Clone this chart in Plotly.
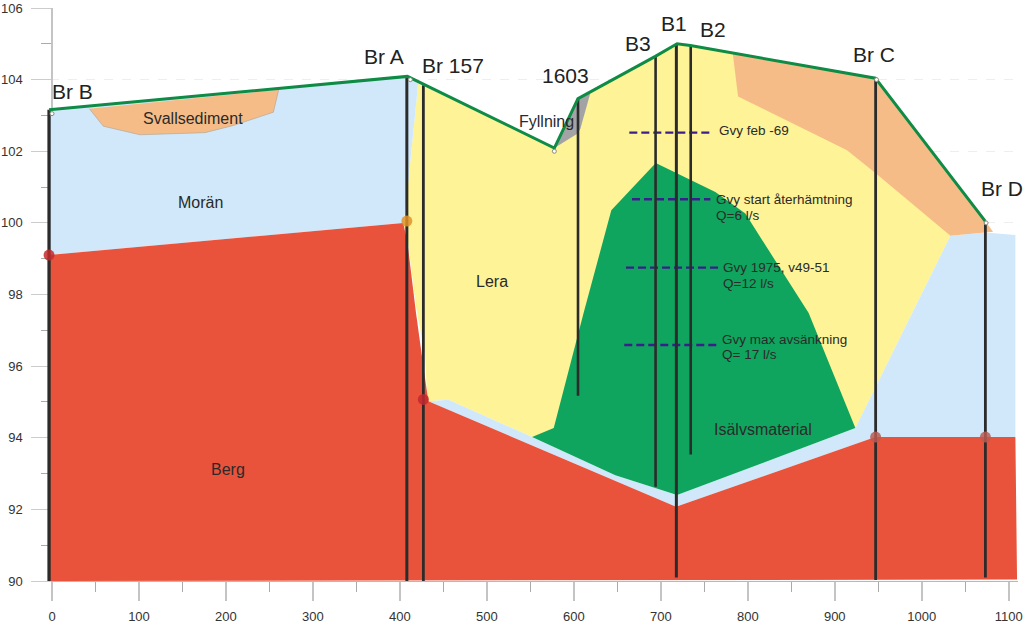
import plotly.graph_objects as go

# markytans profil
surface_x = [-3.4, 408.6, 577.6, 604.8, 693.7, 718.7, 734, 946.7, 1073]
surface_y = [103.16, 104.09, 102.09, 103.47, 104.65, 105.0, 104.95, 104.04, 100.05]

# jordlager, ritas i denna ordning
lera_x = [421, 577.6, 604.8, 693.7, 718.7, 734, 946.7, 1073, 1033, 923.7, 552, 529, 455.8, 433, 431, 429, 419, 409, 404, 406]
lera_y = [103.89, 102.09, 103.47, 104.65, 105.0, 104.95, 104.04, 100.05, 99.64, 94.27, 94.02, 94.27, 95.06, 95.02, 95.25, 96.3, 97.6, 99.5, 100.0, 100.27]

moran_x = [-3.4, 408.6, 421, 406, 403.8, -3.4]
moran_y = [103.16, 104.09, 103.89, 100.27, 100.0, 99.1]

moran2_x = [1033, 1073, 1107.7, 1107.7, 946.7, 717.5, 432.7, 455.8, 529, 552, 647.7, 718.7, 923.7]
moran2_y = [99.64, 99.73, 99.66, 94.02, 94.02, 92.07, 95.02, 95.06, 94.27, 94.02, 92.95, 92.4, 94.27]

berg_x = [-3.4, 403.8, 408.6, 418.5, 427, 432.7, 717.5, 946.7, 1107.7, 1109.6, -3.4]
berg_y = [99.1, 100.0, 99.47, 97.49, 95.99, 95.02, 92.07, 94.02, 94.02, 90.04, 90]

svall_x = [42.9, 59, 101.2, 175.9, 208.5, 254.5, 260.7]
svall_y = [103.19, 102.7, 102.46, 102.52, 102.72, 103.09, 103.72]

sand_x = [782.7, 788.8, 914.1, 946.7, 1033, 1073, 1082, 1073, 946.7]
sand_y = [104.74, 103.53, 102.03, 101.39, 99.64, 99.73, 99.75, 100.05, 104.04]

fyll_x = [577.6, 604.8, 619, 607.5, 604]
fyll_y = [102.09, 103.47, 103.63, 102.63, 102.49]

isalv_x = [694.2, 643.1, 611.3, 576.9, 552, 647.7, 718.7, 923.7, 870, 797.2, 762.7]
isalv_y = [101.67, 100.35, 97.49, 94.27, 94.02, 92.95, 92.4, 94.27, 97.48, 100.26, 100.86]

# borrhal
hole_x = [-3.4, 408, 427, 604.8, 694, 717.9, 734.4, 947, 1073.2]
hole_top = [103.16, 104.09, 103.84, 103.47, 104.65, 105.0, 104.95, 104.04, 100.05]
hole_bottom = [90, 90, 90, 95.17, 92.63, 90.1, 93.53, 90.03, 90.1]
hole_width = [3.3, 3, 2.8, 2.6, 2.6, 3, 2.6, 2.8, 2.8]

# bergnivan i borrhalen
rock_x = [-3.4, 408, 427, 947, 1073.2]
rock_y = [99.1, 100.05, 95.07, 94.02, 94.02]
rock_col = ["#c42a2c", "#e0922a", "#c2282f", "#bb5a50", "#bb5a50"]

small_x = [0, 412, 577.6, 948, 1074]
small_y = [103.05, 104.0, 102.0, 104.0, 100.0]

# grundvattenytor
gvy_x0 = [663.8, 666.9, 660, 658]
gvy_x1 = [758.9, 757, 767.3, 767.3]
gvy_y = [102.52, 100.66, 98.75, 96.59]

big_text = ["Br B", "Br A", "Br 157", "1603", "B3", "B1", "B2", "Br C", "Br D"]
big_x = [0, 358.7, 425, 563.4, 659.3, 700.6, 745.4, 921.4, 1068.2]
big_y = [103.67, 104.65, 104.4, 104.12, 105.0, 105.58, 105.4, 104.7, 100.97]

mid_text = ["Fyllning", "Svallsediment", "Morän", "Lera", "Berg", "Isälvsmaterial"]
mid_x = [537.3, 104.6, 144.5, 487.2, 182.8, 761.5]
mid_y = [102.83, 102.92, 100.58, 98.37, 93.1, 94.22]

gvy_text = ["Gvy feb -69", "Gvy start återhämtning", "Q=6 l/s", "Gvy 1975, v49-51", "Q=12 l/s", "Gvy max avsänkning", "Q= 17 l/s"]
gvy_tx = [767, 763.5, 763.5, 771.5, 771.5, 770.4, 770.4]
gvy_ty = [102.58, 100.64, 100.21, 98.75, 98.32, 96.73, 96.33]

fig = go.Figure()


def add_layer(xs, ys, color, edge=None):
    fig.add_trace(go.Scatter(x=xs, y=ys, mode="lines", fill="toself", fillcolor=color,
                             line=dict(width=0.7 if edge else 0, color=edge or color),
                             showlegend=False, hoverinfo="skip"))


add_layer(lera_x, lera_y, "#FEF396")
add_layer(moran_x, moran_y, "#D0E8FA")
add_layer(moran2_x, moran2_y, "#D0E8FA")
add_layer(berg_x, berg_y, "#E9533B")
add_layer(svall_x, svall_y, "#F6BC87", "#b5a99a")
add_layer(sand_x, sand_y, "#F6BC87")
add_layer(fyll_x, fyll_y, "#A3A3A6")
add_layer(isalv_x, isalv_y, "#0FA55E")

# grundvattenytor ritas under borrhalen
for x0, x1, y in zip(gvy_x0, gvy_x1, gvy_y):
    fig.add_trace(go.Scatter(x=[x0, x1], y=[y, y], mode="lines", showlegend=False, hoverinfo="skip",
                             line=dict(color="#3A1F8C", width=2.4, dash="8px,4px")))

for x, top, bottom, w in zip(hole_x, hole_top, hole_bottom, hole_width):
    fig.add_trace(go.Scatter(x=[x, x], y=[bottom, top], mode="lines", showlegend=False, hoverinfo="skip",
                             line=dict(color="#2B2B2B", width=w)))

fig.add_trace(go.Scatter(x=surface_x, y=surface_y, mode="lines", showlegend=False, hoverinfo="skip",
                         line=dict(color="#0E8B45", width=3)))

fig.add_trace(go.Scatter(x=rock_x, y=rock_y, mode="markers", showlegend=False, hoverinfo="skip",
                         marker=dict(size=11, color=rock_col, opacity=0.85)))
fig.add_trace(go.Scatter(x=small_x, y=small_y, mode="markers", showlegend=False, hoverinfo="skip",
                         marker=dict(size=4, color="white", line=dict(color="#8a8a7a", width=1))))

for t, x, y in zip(big_text, big_x, big_y):
    fig.add_annotation(x=x, y=y, text=t, showarrow=False, xanchor="left", yanchor="middle",
                       font=dict(size=21, color="#222222"), borderpad=0, borderwidth=0)
for t, x, y in zip(mid_text, mid_x, mid_y):
    fig.add_annotation(x=x, y=y, text=t, showarrow=False, xanchor="left", yanchor="middle",
                       font=dict(size=16, color="#2a2a2a"), borderpad=0, borderwidth=0)
for t, x, y in zip(gvy_text, gvy_tx, gvy_ty):
    fig.add_annotation(x=x, y=y, text=t, showarrow=False, xanchor="left", yanchor="middle",
                       font=dict(size=13.5, color="#2a2a2a"), borderpad=0, borderwidth=0)

fig.update_layout(
    template="none",
    width=1024, height=626,
    margin=dict(l=32, r=6, t=7.5, b=44.7, autoexpand=False),
    paper_bgcolor="white", plot_bgcolor="white",
    font=dict(family="Liberation Sans", size=13, color="#333333"),
    showlegend=False,
)
fig.update_xaxes(automargin=False, range=[-23, 1110.7], tick0=0, dtick=100, ticks="outside", ticklen=19, tickwidth=1.5,
                 tickcolor="#c4c4c4", ticklabelstandoff=4, showgrid=False, zeroline=False,
                 showline=True, linecolor="#b8b8b8", linewidth=1.2, layer="below traces",
                 minor=dict(dtick=50, ticks="outside", ticklen=10, tickwidth=1.2, tickcolor="#aaaaaa", showgrid=False))
fig.update_yaxes(automargin=False, range=[90, 106], tick0=90, dtick=2, ticks="outside", ticklen=20, tickwidth=1,
                 tickcolor="#cccccc", ticklabelstandoff=6, anchor="free", position=20 / 986,
                 showgrid=True, gridcolor="#eeeeee", griddash="dash", gridwidth=1, zeroline=False,
                 showline=True, linecolor="#c4c4c4", linewidth=1.5, layer="below traces",
                 minor=dict(dtick=1, ticks="outside", ticklen=10, tickwidth=1, tickcolor="#aaaaaa", showgrid=False))

fig.write_html("out.html", config={"displayModeBar": False}, post_script="document.body.style.margin='0';")
